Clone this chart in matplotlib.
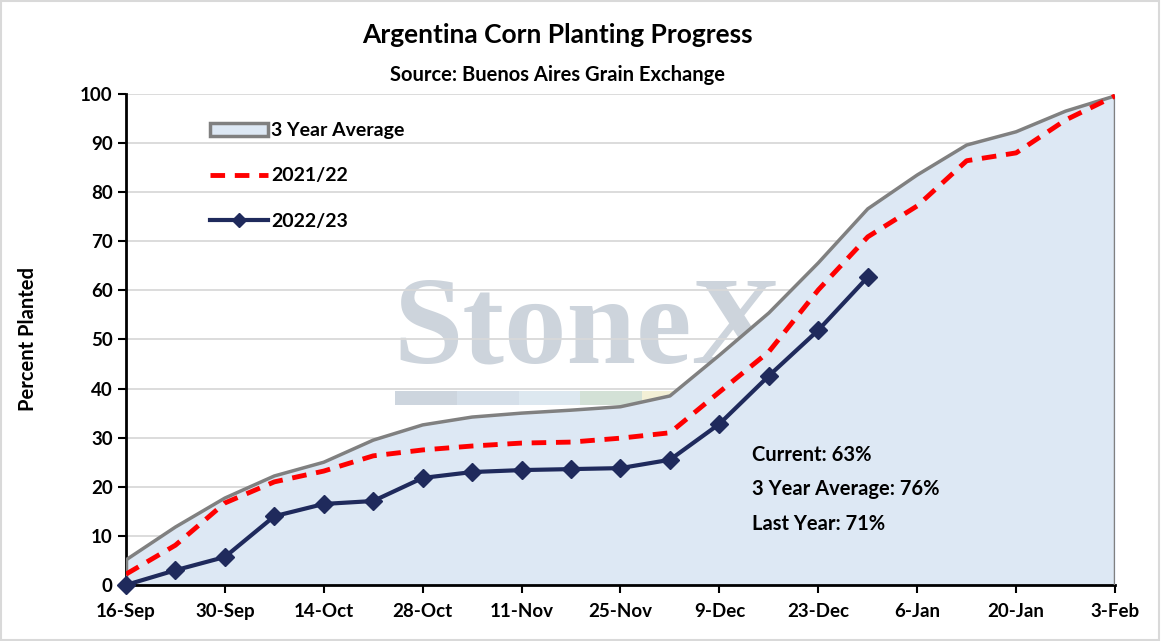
import matplotlib.pyplot as plt
from matplotlib.patches import Rectangle, Patch
from matplotlib.lines import Line2D

weeks = ['16-Sep', '23-Sep', '30-Sep', '7-Oct', '14-Oct', '21-Oct', '28-Oct',
         '4-Nov', '11-Nov', '18-Nov', '25-Nov', '2-Dec', '9-Dec', '16-Dec',
         '23-Dec', '30-Dec', '6-Jan', '13-Jan', '20-Jan', '27-Jan', '3-Feb']
avg3 = [5.1, 11.8, 17.7, 22.2, 25.0, 29.5, 32.6, 34.2, 35.0, 35.6, 36.3, 38.5,
        46.8, 55.4, 65.6, 76.6, 83.5, 89.6, 92.3, 96.5, 99.6]
y2122 = [2.2, 8.1, 16.7, 21.0, 23.2, 26.3, 27.5, 28.3, 28.9, 29.1, 29.9, 31.0,
         39.3, 47.5, 60.1, 70.9, 77.2, 86.4, 88.0, 94.7, 99.6]
y2223 = [0.0, 3.0, 5.7, 14.0, 16.5, 17.1, 21.8, 23.0, 23.4, 23.6, 23.8, 25.5,
         32.8, 42.6, 51.9, 62.7]
notes = ['Current: 63%', '3 Year Average: 76%', 'Last Year: 71%']

plt.rcParams['font.family'] = ['Lato', 'DejaVu Sans']

fig = plt.figure(figsize=(11.61, 6.41), dpi=100)
fig.patches.append(Rectangle((0.001, 0.001), 0.997, 0.997, transform=fig.transFigure,
                             fill=False, edgecolor='#d9d9d9', lw=1.5))
ax = fig.add_axes([0.1085, 0.0874, 0.8519, 0.766])

x = list(range(len(weeks)))
x23 = x[:len(y2223)]

# watermark
ax.text(0.270, 0.454, 'StoneX', transform=ax.transAxes, fontsize=90,
        family='Liberation Serif', weight='bold', color='#cdd4dc',
        va='baseline', ha='left', zorder=0)
wm_cols = ['#cdd5de', '#d5dfe9', '#dde8f0', '#d3e1d6', '#f3f0d6', '#e8d8d8']
for i, c in enumerate(wm_cols):
    ax.add_patch(Rectangle((0.272 + i * 0.0625, 0.367), 0.0625, 0.029,
                           transform=ax.transAxes, color=c, lw=0, zorder=0))

ax.yaxis.grid(True, color='#d9d9d9', lw=1.3, zorder=1)
ax.set_axisbelow(True)

ax.fill_between(x, avg3, 0, color='#dde8f4', lw=0, zorder=2)
ax.plot(x, avg3, color='#808080', lw=2.5, zorder=3)
ax.plot([x[-1], x[-1]], [0, avg3[-1]], color='#808080', lw=2.5, zorder=3)
ax.plot([x[0], x[0]], [0, avg3[0]], color='#808080', lw=2.5, zorder=3)
ax.plot(x, y2122, color='#ff0000', lw=3.5, dashes=(3, 2), zorder=4)
ax.plot(x23, y2223, color='#1f2a5c', lw=3, marker='D', ms=9, zorder=5, clip_on=False)

handles = [Patch(facecolor='#dde8f4', edgecolor='#808080', lw=2.5),
           Line2D([], [], color='#ff0000', lw=3.5, dashes=(3, 2)),
           Line2D([], [], color='#1f2a5c', lw=3, marker='D', ms=7)]
ax.legend(handles, ['3 Year Average', '2021/22', '2022/23'], loc='upper left',
          bbox_to_anchor=(0.067, 0.978), frameon=False, handlelength=3.0,
          handleheight=0.6, handletextpad=0.15, labelspacing=1.45,
          prop={'weight': 'bold', 'size': 14})

for i, t in enumerate(notes):
    ax.text(12.66, 26.5 - i * 7, t, fontsize=14.5, weight='bold', color='black',
            va='center', ha='left', zorder=6)

ax.set_xlim(0, len(weeks) - 1)
ax.set_ylim(0, 100)
ax.set_xticks(x[::2])
ax.set_xticklabels(weeks[::2])
ax.set_yticks(range(0, 101, 10))
ax.tick_params(axis='both', labelsize=13.5, width=1.5, length=6, colors='black')
for lab in ax.get_xticklabels() + ax.get_yticklabels():
    lab.set_fontweight('bold')
ax.tick_params(axis='x', pad=7)

for s in ['top', 'right']:
    ax.spines[s].set_visible(False)
for s in ['left', 'bottom']:
    ax.spines[s].set_linewidth(2)
    ax.spines[s].set_color('black')

ax.set_ylabel('Percent Planted', fontsize=14.5, weight='bold', labelpad=30)
fig.text(0.48, 0.945, 'Argentina Corn Planting Progress', fontsize=19, weight='bold',
         ha='center', va='center')
fig.text(0.48, 0.883, 'Source: Buenos Aires Grain Exchange', fontsize=14.5, weight='bold',
         ha='center', va='center')

fig.savefig('out.png', dpi=100)
